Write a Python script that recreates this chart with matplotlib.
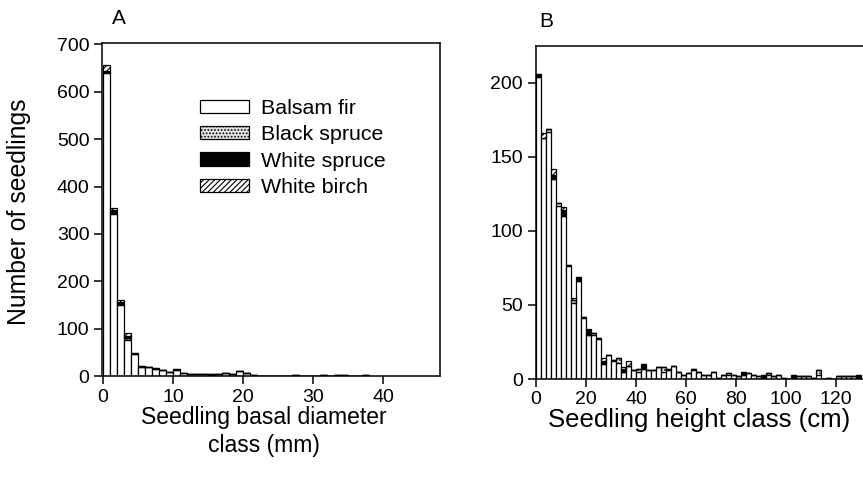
import numpy as np
import matplotlib
matplotlib.use("Agg")
import matplotlib.pyplot as plt

plt.rcParams['font.family'] = ['Liberation Sans', 'DejaVu Sans']
plt.rcParams['hatch.linewidth'] = 0.8

species = ["Balsam fir", "Black spruce", "White spruce", "White birch"]

# Panel A: seedling counts per 1-mm basal diameter class (class start, mm)
diam_fir = [640, 343, 149, 77, 46, 19, 18, 15, 12, 8, 12, 6, 4, 4, 4, 3, 4, 7, 5, 10,
            7, 3, 1, 1, 1, 1, 1, 2, 1, 1, 1, 2, 1, 2, 2, 1, 1, 2]
diam_bspruce = [1, 2, 4, 3, 1, 0, 0, 0, 1, 0, 0, 0, 0, 0, 0, 1, 0, 0, 0, 0,
                0, 0, 0, 0, 0, 0, 0, 0, 0, 0, 0, 0, 0, 0, 0, 0, 0, 0]
diam_wspruce = [2, 6, 3, 5, 2, 2, 2, 2, 0, 0, 2, 0, 0, 0, 0, 0, 0, 0, 0, 0,
                0, 0, 0, 0, 0, 0, 0, 0, 0, 0, 0, 0, 0, 0, 0, 0, 0, 0]
diam_birch = [14, 4, 5, 6, 0, 0, 0, 0, 0, 0, 0, 0, 0, 0, 0, 0, 0, 0, 0, 0,
              0, 0, 0, 0, 0, 0, 0, 0, 0, 0, 0, 0, 0, 0, 0, 0, 0, 0]
diam_class = np.arange(len(diam_fir))

# Panel B: seedling counts per 2-cm height class (class start, cm)
ht_fir = [204, 163, 167, 135, 117, 110, 76, 51, 66, 41, 30, 30, 27, 10, 16, 12, 11, 5, 9, 6,
          5, 7, 6, 6, 8, 5, 6, 9, 5, 3, 4, 6, 5, 3, 3, 5, 1, 3, 3, 3,
          2, 3, 4, 3, 2, 1, 3, 2, 3, 1, 0, 1, 2, 2, 2, 1, 3, 0, 1, 0,
          2, 2, 2, 2, 1]
ht_bspruce = [0, 0, 2, 0, 2, 0, 1, 2, 0, 1, 0, 1, 1, 0, 0, 1, 3, 0, 0, 0,
              2, 0, 0, 0, 0, 3, 0, 0, 0, 0, 0, 1, 0, 0, 0, 0, 0, 0, 1, 0,
              0, 0, 0, 0, 0, 0, 1, 0, 0, 0, 0, 0, 0, 0, 0, 0, 3, 0, 0, 0,
              0, 0, 0, 0, 0]
ht_wspruce = [2, 0, 0, 3, 0, 4, 0, 0, 3, 0, 3, 0, 0, 2, 0, 0, 0, 2, 0, 0,
              0, 3, 0, 0, 0, 0, 1, 0, 0, 0, 0, 0, 0, 0, 0, 0, 0, 0, 0, 0,
              0, 2, 0, 0, 0, 2, 0, 0, 0, 0, 0, 2, 0, 0, 0, 0, 0, 0, 0, 0,
              0, 0, 0, 0, 2]
ht_birch = [0, 3, 0, 4, 0, 2, 0, 2, 0, 0, 1, 0, 0, 2, 0, 0, 0, 1, 3, 0,
            0, 0, 0, 0, 0, 0, 0, 0, 0, 0, 0, 0, 0, 0, 0, 0, 0, 0, 0, 0,
            0, 0, 0, 0, 0, 0, 0, 0, 0, 0, 0, 0, 0, 0, 0, 0, 0, 0, 0, 0,
            0, 0, 0, 0, 0]
ht_class = np.arange(len(ht_fir)) * 2

styles = [
    dict(facecolor="white", hatch=None),
    dict(facecolor="#e2e2e2", hatch="....."),
    dict(facecolor="black", hatch=None),
    dict(facecolor="white", hatch="//////"),
]


def stacked(ax, x, series, width):
    bottom = np.zeros(len(x))
    handles = []
    for vals, st in zip(series, styles):
        vals = np.asarray(vals, dtype=float)
        h = ax.bar(x, vals, width=width, bottom=bottom, align="edge",
                   facecolor=st["facecolor"], hatch=st["hatch"],
                   edgecolor="black", linewidth=0.9)
        handles.append(h)
        bottom += vals
    return handles


def style_axes(ax):
    ax.tick_params(direction="out", length=6, width=1.1, labelsize=14,
                   top=False, right=False, pad=3)
    for sp in ax.spines.values():
        sp.set_linewidth(1.1)


fig = plt.figure(figsize=(8.63, 4.86), dpi=100)
W, H = 863.0, 486.0

# Panel A
axA = fig.add_axes([102 / W, 1 - 376 / H, 338 / W, 333 / H])
hA = stacked(axA, diam_class, [diam_fir, diam_bspruce, diam_wspruce, diam_birch], 1.0)
axA.set_xlim(-0.15, 48.1)
axA.set_ylim(0, 703)
axA.set_xticks([0, 10, 20, 30, 40])
axA.set_yticks(range(0, 701, 100))
style_axes(axA)
axA.set_ylabel("Number of seedlings", fontsize=17.8)
axA.yaxis.label.set_va("center")
axA.yaxis.set_label_coords(-(102 - 19) / 338, 1 - (212 - 43) / 333,
                           transform=axA.transAxes)
axA.set_xlabel("Seedling basal diameter\nclass (mm)", fontsize=16.5,
               linespacing=1.3)
axA.xaxis.label.set_va("top")
axA.xaxis.set_label_coords((264 - 102) / 338, -(406 - 376) / 333,
                           transform=axA.transAxes)
axA.text(0.03, 1.045, "A", transform=axA.transAxes, fontsize=15,
         ha="left", va="bottom")
leg = axA.legend([h[0] for h in hA], species, loc="upper left",
                 bbox_to_anchor=((200 - 102) / 338, 1 - (99 - 43) / 333),
                 frameon=False, fontsize=15.4, handlelength=2.3,
                 handleheight=0.58, handletextpad=0.55, labelspacing=0.34,
                 borderpad=0, borderaxespad=0)

# Panel B (extends past the right edge of the figure)
axB = fig.add_axes([535.5 / W, 1 - 379 / H, 350.5 / W, 333.3 / H])
stacked(axB, ht_class, [ht_fir, ht_bspruce, ht_wspruce, ht_birch], 2.0)
axB.set_xlim(-0.2, 140)
axB.set_ylim(0, 225)
axB.set_xticks(range(0, 121, 20))
axB.set_yticks(range(0, 201, 50))
style_axes(axB)
axB.set_xlabel("Seedling height class (cm)", fontsize=18.5)
axB.xaxis.label.set_va("top")
axB.xaxis.set_label_coords((699 - 535.5) / 350.5, -(408 - 379) / 333.3,
                           transform=axB.transAxes)
axB.text(0.01, 1.045, "B", transform=axB.transAxes, fontsize=15,
         ha="left", va="bottom")

fig.savefig("out.png", dpi=100)
